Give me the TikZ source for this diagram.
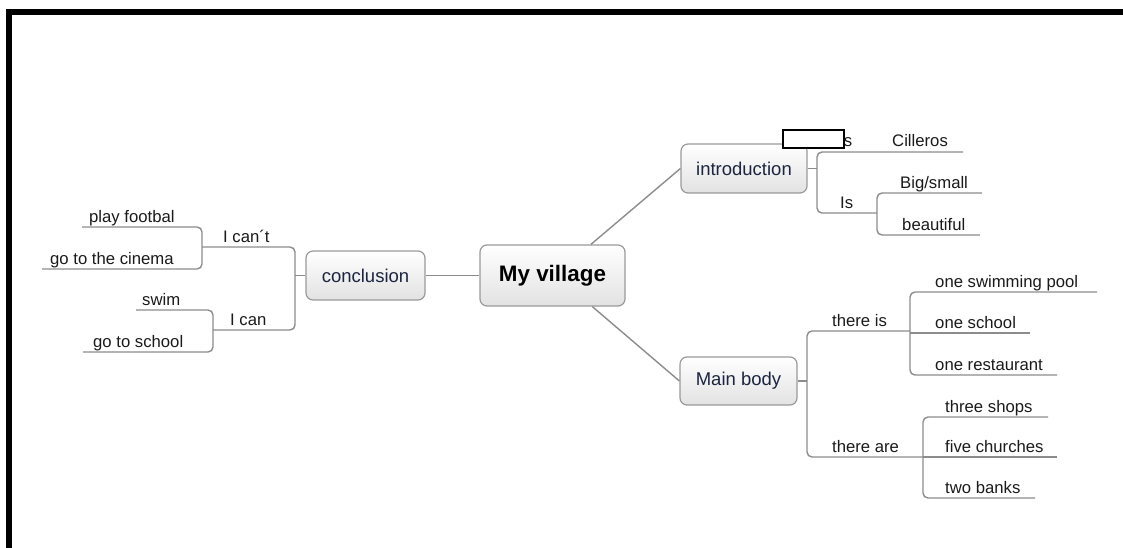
\documentclass[tikz,border=0pt]{standalone}
\usepackage{fontspec}
\setmainfont{Liberation Sans}
\definecolor{linkgray}{HTML}{8C8C8C}
\definecolor{boxgray}{HTML}{9A9A9A}
\definecolor{boxbot}{HTML}{E2E2E2}
\definecolor{labelc}{HTML}{1C2540}
\definecolor{leafc}{HTML}{1A1A1A}
\begin{document}
\begin{tikzpicture}[x=1pt,y=-1pt,
  link/.style={draw=linkgray, line width=1.4pt, rounded corners=5pt},
  box/.style={draw=boxgray, line width=1.2pt, rounded corners=7pt, top color=white, bottom color=boxbot,
    font=\fontsize{18.5}{22}\selectfont, text=labelc, inner sep=0pt},
  leaf/.style={anchor=base west, inner sep=0pt, font=\fontsize{16.7}{20}\selectfont, text=leafc}]
\useasboundingbox (0,0) rectangle (1123,548);
% frame
\fill[black] (6,9) rectangle (1123,15);
\fill[black] (6,9) rectangle (12,548);
% main boxes
\node[box, minimum width=145pt, minimum height=61pt, font=\bfseries\fontsize{22.4}{26}\selectfont, text=black] (vil) at (552.5,275.5) {My village};
\node[box, minimum width=119pt, minimum height=49pt] (concl) at (365.5,275.5) {conclusion};
\node[box, minimum width=126pt, minimum height=49pt] (intro) at (744,168.5) {introduction};
\node[box, minimum width=117pt, minimum height=48pt] (mainb) at (738.5,381) {Main body};
% central connectors
\draw[link] (concl.east) -- (vil.west);
\draw[link] (vil.39) -- (intro.west);
\draw[link] (vil.-38) -- (mainb.west);
% ---------- introduction ----------
\coordinate (bI) at (817,0);
\coordinate (bI2) at (877,0);
\draw[link] (intro.east) -- (intro.east -| bI);
\draw[link] (963,152) -- (817,152) -- (817,213) -- (877,213);
\draw[link] (982,193) -- (877,193) -- (877,235) -- (980,235);
\node[leaf] (is1) at (840,147) {is};
\node[leaf] (cil) at (892,147) {Cilleros};
\node[leaf] (is2) at (840,208) {Is};
\node[leaf] (big) at (900,188) {Big/small};
\node[leaf] (beau) at (902,230) {beautiful};
\node[draw=black, fill=white, line width=1.6pt, minimum width=61pt, minimum height=18pt, inner sep=0pt] (mask) at (813.5,139) {};
% ---------- main body ----------
\coordinate (bM) at (807,0);
\draw[link] (mainb.east) -- (mainb.east -| bM);
\draw[link] (910,331) -- (807,331) -- (807,457) -- (923,457);
\draw[link] (1097,292) -- (910,292) -- (910,375) -- (1057,375);
\draw[link] (910,333) -- (1030,333);
\draw[link] (1048,417) -- (923,417) -- (923,498) -- (1035,498);
\draw[link] (923,457) -- (1057,457);
\node[leaf] (tis) at (832,326) {there is};
\node[leaf] (tare) at (832,452) {there are};
\node[leaf] (pool) at (935,287) {one swimming pool};
\node[leaf] (school1) at (935,328) {one school};
\node[leaf] (rest) at (935,370) {one restaurant};
\node[leaf] (shops) at (945,412) {three shops};
\node[leaf] (church) at (945,452) {five churches};
\node[leaf] (banks) at (945,493) {two banks};
% ---------- conclusion ----------
\coordinate (bC) at (295,0);
\draw[link] (concl.west) -- (concl.west -| bC);
\draw[link] (202,247) -- (295,247) -- (295,330) -- (213,330);
\draw[link] (82,227) -- (202,227) -- (202,269) -- (42,269);
\draw[link] (136,310) -- (213,310) -- (213,352) -- (83,352);
\node[leaf] (cant) at (223,242) {I can´t};
\node[leaf] (can) at (230,325) {I can};
\node[leaf] (foot) at (89,222) {play footbal};
\node[leaf] (cine) at (50,264) {go to the cinema};
\node[leaf] (swim) at (142,305) {swim};
\node[leaf] (gosch) at (93,347) {go to school};
\end{tikzpicture}
\end{document}
